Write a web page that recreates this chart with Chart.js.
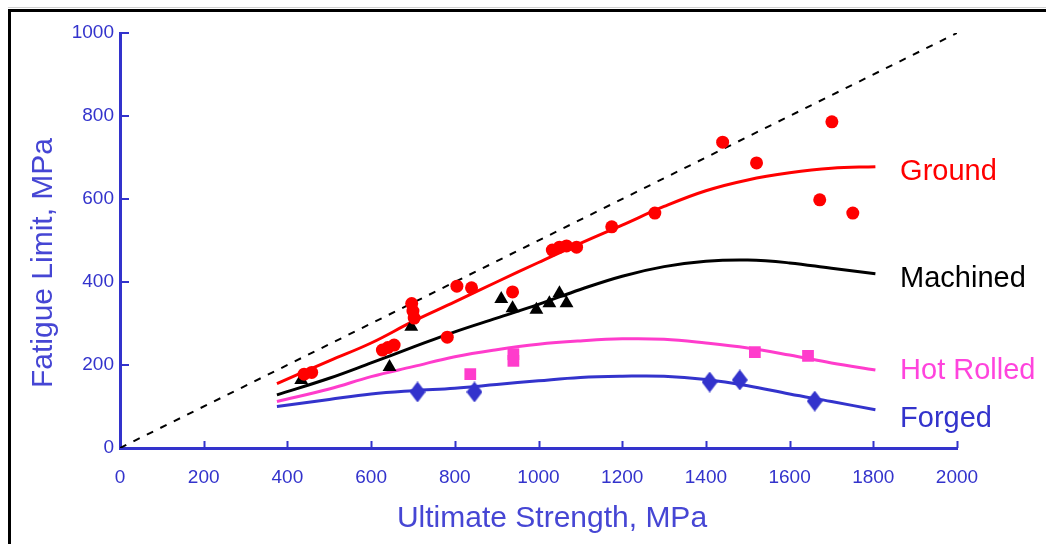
<!DOCTYPE html>
<html><head><meta charset="utf-8">
<script src="https://cdn.jsdelivr.net/npm/chart.js@4.4.0/dist/chart.umd.min.js"></script>
<style>html,body{margin:0;padding:0;background:#fff;overflow:hidden}canvas{display:block}</style>
</head><body>
<canvas id="c" width="1046" height="544"></canvas>
<script>
// ---- data ----
const xTickValues = [0, 200, 400, 600, 800, 1000, 1200, 1400, 1600, 1800, 2000];
const yTickValues = [0, 200, 400, 600, 800, 1000];

const groundX = [440, 458, 627, 640, 655, 697, 700, 703, 782, 805, 840, 938, 1033, 1050, 1067, 1091, 1175, 1278, 1440, 1521, 1672, 1701, 1751];
const groundY = [178, 182, 236, 242, 248, 348, 330, 313, 267, 390, 386, 376, 477, 484, 487, 484, 533, 566, 737, 687, 598, 786, 566];

const machinedX = [433, 644, 696, 911, 938, 995, 1026, 1050, 1067];
const machinedY = [164, 195, 292, 359, 337, 333, 349, 373, 349];

const hotRolledX = [837, 940, 940, 1517, 1644];
const hotRolledY = [178, 226, 210, 231, 222];

const forgedX = [711, 847, 1409, 1481, 1660];
const forgedY = [135, 135, 159, 164, 113];

const fitX = [375, 500, 600, 700, 800, 900, 1000, 1100, 1200, 1300, 1400, 1500, 1600, 1700, 1805];
const groundFit    = [155, 210, 253, 305, 352, 400, 447, 493, 537, 582, 620, 646, 663, 674, 678];
const machinedFit  = [128, 168, 205, 243, 280, 313, 346, 382, 414, 437, 450, 453, 446, 433, 420];
const hotRolledFit = [112, 142, 172, 196, 220, 237, 250, 258, 263, 262, 253, 241, 224, 205, 188];
const forgedFit    = [100, 117, 130, 138, 144, 153, 162, 170, 173, 173, 165, 150, 130, 112, 92];

const diagX = [0, 2000];
const diagY = [0, 1000];

const curveLabels = ['Ground', 'Machined', 'Hot Rolled', 'Forged'];
const curveLabelY = [670, 412, 190, 75];
const curveLabelX = 1864;

const xTitle = 'Ultimate Strength, MPa';
const yTitle = 'Fatigue Limit, MPa';

// ---- helpers ----
const pts = (xs, ys) => xs.map((x, i) => ({x, y: ys[i]}));
const BLUE = '#3333cc';
const PINK = '#ff3ccc';
const FONT = '"Liberation Sans", Arial, sans-serif';

function diamondCanvas(color) {
  const c = document.createElement('canvas');
  c.width = 16; c.height = 21;
  const g = c.getContext('2d');
  g.fillStyle = color;
  g.beginPath();
  g.moveTo(8, 0); g.lineTo(16, 10.5); g.lineTo(8, 21); g.lineTo(0, 10.5);
  g.closePath(); g.fill();
  return c;
}

const decor = {
  id: 'decor',
  beforeDraw(chart) {
    const ctx = chart.ctx;
    ctx.save();
    ctx.fillStyle = '#fff';
    ctx.fillRect(0, 0, chart.width, chart.height);
    ctx.fillStyle = '#d0d0d0';
    ctx.fillRect(8, 7, chart.width - 8, 1);
    ctx.fillStyle = '#000';
    ctx.fillRect(8, 9, chart.width - 8, 3);
    ctx.fillRect(8, 9, 3, chart.height - 9);
    ctx.restore();
  },
  afterDraw(chart) {
    const ctx = chart.ctx;
    const xs = chart.scales.x, ys = chart.scales.y;
    const ca = chart.chartArea;
    ctx.save();
    ctx.strokeStyle = BLUE;
    ctx.lineWidth = 2;
    xTickValues.forEach(v => {
      if (v === 0) return;
      const px = Math.round(xs.getPixelForValue(v)) + 0.5;
      ctx.beginPath(); ctx.moveTo(px, ca.bottom); ctx.lineTo(px, ca.bottom - 7); ctx.stroke();
    });
    yTickValues.forEach(v => {
      if (v === 0) return;
      const py = Math.round(ys.getPixelForValue(v));
      ctx.beginPath(); ctx.moveTo(ca.left, py); ctx.lineTo(ca.left + 9, py); ctx.stroke();
    });
    // curve labels
    ctx.font = '29px ' + FONT;
    ctx.textAlign = 'left';
    ctx.textBaseline = 'alphabetic';
    const colors = ['#ff0000', '#000000', '#ff44dd', BLUE];
    curveLabels.forEach((t, i) => {
      ctx.fillStyle = colors[i];
      ctx.fillText(t, xs.getPixelForValue(curveLabelX), ys.getPixelForValue(curveLabelY[i]) + 10);
    });
    // axis titles
    ctx.fillStyle = '#4646d4';
    ctx.font = '30px ' + FONT;
    ctx.textAlign = 'center';
    ctx.fillText(xTitle, 552, 527);
    ctx.translate(52, 263);
    ctx.rotate(-Math.PI / 2);
    ctx.fillText(yTitle, 0, 0);
    ctx.restore();
  }
};

const lineDs = (label, data, color) => ({
  type: 'line', label, data: pts(fitX, data), borderColor: color, borderWidth: 3,
  pointRadius: 0, fill: false, tension: 0.4, order: 5
});
const ptDs = (label, xs, ys, color, style, r) => ({
  type: 'scatter', label, data: pts(xs, ys), backgroundColor: color, borderColor: color,
  borderWidth: 0, pointStyle: style, pointRadius: r, order: 1
});

new Chart(document.getElementById('c'), {
  data: {
    datasets: [
      ptDs('Ground data', groundX, groundY, '#ff0000', 'circle', 6.5),
      ptDs('Machined data', machinedX, machinedY, '#000000', 'triangle', 8),
      ptDs('Hot Rolled data', hotRolledX, hotRolledY, PINK, 'rect', 8.3),
      ptDs('Forged data', forgedX, forgedY, BLUE, diamondCanvas(BLUE), 8),
      lineDs('Ground', groundFit, '#ff0000'),
      lineDs('Machined', machinedFit, '#000000'),
      lineDs('Hot Rolled', hotRolledFit, PINK),
      lineDs('Forged', forgedFit, BLUE),
      {type: 'line', label: 'Su/2', data: pts(diagX, diagY), borderColor: '#000', borderWidth: 2,
       borderDash: [7, 8], pointRadius: 0, fill: false, order: 6}
    ]
  },
  options: {
    responsive: false, animation: false, devicePixelRatio: 1,
    layout: {padding: {left: 0, right: 89, top: 33, bottom: 0}},
    plugins: {legend: {display: false}, tooltip: {enabled: false}},
    scales: {
      x: {
        type: 'linear', min: 0, max: 2000,
        afterBuildTicks: s => { s.ticks = xTickValues.map(v => ({value: v})); },
        afterFit: s => { s.height = 96; },
        grid: {display: false, drawTicks: false},
        border: {display: true, color: BLUE, width: 3},
        ticks: {color: BLUE, font: {family: FONT, size: 19}, padding: 18, maxRotation: 0, autoSkip: false,
                callback: v => String(v)},
        title: {display: false}
      },
      y: {
        type: 'linear', min: 0, max: 1000,
        afterBuildTicks: s => { s.ticks = yTickValues.map(v => ({value: v})); },
        afterFit: s => { s.width = 120; },
        grid: {display: false, drawTicks: false},
        border: {display: true, color: BLUE, width: 3},
        ticks: {color: BLUE, font: {family: FONT, size: 19}, padding: 6, autoSkip: false,
                callback: v => String(v)},
        title: {display: false}
      }
    }
  },
  plugins: [decor]
});
</script>
</body></html>
